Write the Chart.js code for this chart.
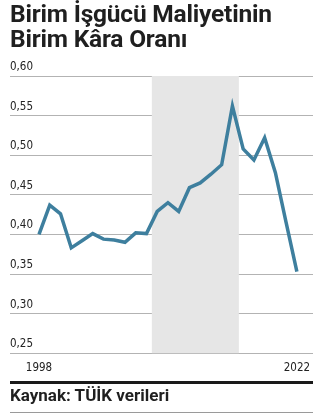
<!DOCTYPE html>
<html lang="tr">
<head>
<meta charset="utf-8">
<script src="https://cdn.jsdelivr.net/npm/chart.js@4"></script>
<style>
  html, body { margin: 0; padding: 0; background: #fff; }
  body { width: 325px; height: 420px; position: relative; overflow: hidden; font-family: Roboto, "DejaVu Sans", sans-serif; }
  .title { position: absolute; left: 10px; top: 1px; font-size: 24.5px; font-weight: 700; line-height: 25px; color: #1f1f1f; letter-spacing: -0.2px; }
  .wrap { position: absolute; left: 0; top: 0; width: 325px; height: 420px; }
  .rule { position: absolute; left: 10px; width: 303px; top: 381px; height: 3px; background: #1a1a1a; }
  .source { position: absolute; left: 10px; top: 385px; font-size: 17px; font-weight: 700; color: #1f1f1f; }
  .thin { position: absolute; left: 10px; width: 303px; top: 412px; height: 1px; background: #9a9a9a; }
</style>
</head>
<body>
<div class="wrap"><canvas id="chart"></canvas></div>
<div class="title">Birim İşgücü Maliyetinin<br>Birim Kâra Oranı</div>
<div class="rule"></div>
<div class="source">Kaynak: TÜİK verileri</div>
<div class="thin"></div>
<script>
var years = [1998, 1999, 2000, 2001, 2002, 2003, 2004, 2005, 2006, 2007, 2008, 2009, 2010,
             2011, 2012, 2013, 2014, 2015, 2016, 2017, 2018, 2019, 2020, 2021, 2022];
var ratio = [0.400, 0.437, 0.426, 0.383, 0.392, 0.401, 0.394, 0.393, 0.390, 0.402, 0.401, 0.429, 0.440,
             0.429, 0.459, 0.465, 0.476, 0.488, 0.562, 0.508, 0.494, 0.522, 0.478, 0.415, 0.353];
var yTicks = [0.25, 0.30, 0.35, 0.40, 0.45, 0.50, 0.55, 0.60];
var xTicks = [1998, 2022];
var shadedPeriod = [2008.5, 2016.6];

// grey band behind the line
var bandPlugin = {
  id: 'band',
  beforeDatasetsDraw: function (chart) {
    var x = chart.scales.x, y = chart.scales.y, c = chart.ctx;
    var x0 = x.getPixelForValue(shadedPeriod[0]);
    var x1 = x.getPixelForValue(shadedPeriod[1]);
    c.save();
    c.fillStyle = '#e6e6e6';
    c.fillRect(x0, y.getPixelForValue(0.60), x1 - x0, y.getPixelForValue(0.25) - y.getPixelForValue(0.60));
    c.restore();
  }
};

var points = years.map(function (yr, i) { return { x: yr, y: ratio[i] }; });
var tickFont = { family: '"DejaVu Sans Condensed", "Liberation Sans Narrow", Roboto, sans-serif', size: 11.5 };

var ctx = document.getElementById('chart').getContext('2d');
var chart = new Chart(ctx, {
  type: 'line',
  data: {
    datasets: [{
      data: points,
      borderColor: '#3e7f9e',
      borderWidth: 3.5,
      pointRadius: 0,
      tension: 0,
      borderJoinStyle: 'miter'
    }]
  },
  options: {
    responsive: true,
    maintainAspectRatio: false,
    animation: false,
    layout: { padding: { left: 10, right: 12, top: 76, bottom: 37 } },
    plugins: { legend: { display: false }, tooltip: { enabled: false } },
    scales: {
      x: {
        type: 'linear',
        min: 1995.3,
        max: 2023.5,
        afterBuildTicks: function (axis) { axis.ticks = xTicks.map(function (v) { return { value: v }; }); },
        grid: { display: false, drawTicks: false },
        border: { display: false },
        ticks: {
          color: '#222',
          padding: 8,
          maxRotation: 0,
          font: tickFont,
          callback: function (v) { return String(v); }
        }
      },
      y: {
        min: 0.25,
        max: 0.60,
        afterBuildTicks: function (axis) { axis.ticks = yTicks.map(function (v) { return { value: v }; }); },
        grid: { color: '#b3b3b3', lineWidth: 1, drawTicks: false },
        border: { display: false },
        ticks: {
          mirror: true,
          padding: 0,
          labelOffset: -9,
          color: '#222',
          font: tickFont,
          callback: function (v) { return v.toFixed(2).replace('.', ','); }
        }
      }
    }
  },
  plugins: [bandPlugin]
});
</script>
</body>
</html>
